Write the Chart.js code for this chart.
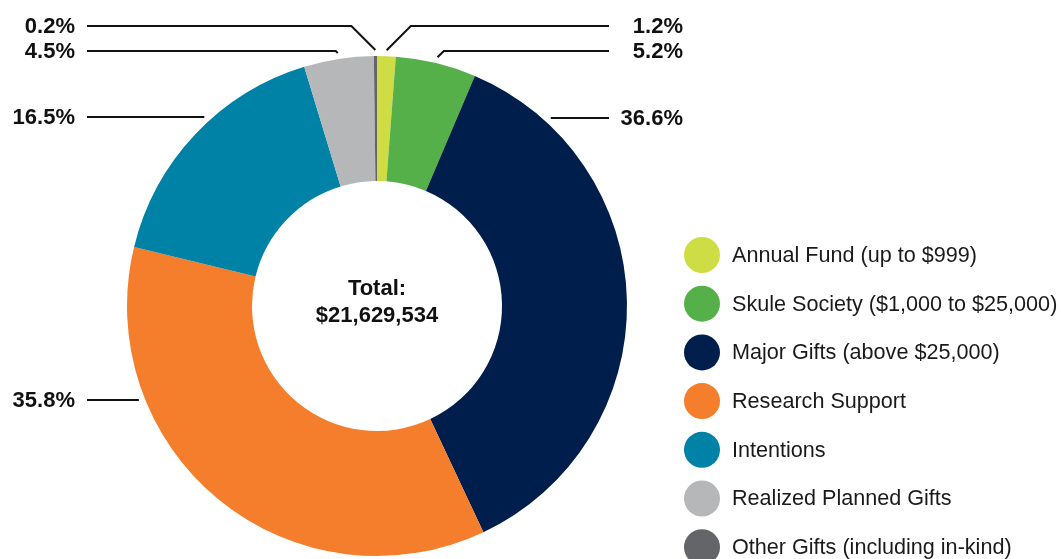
<!DOCTYPE html>
<html>
<head>
<meta charset="utf-8">
<script src="https://cdn.jsdelivr.net/npm/chart.js@4"></script>
<style>
  html, body { margin: 0; padding: 0; background: #fff; }
  #wrap { width: 1061px; height: 559px; position: relative; }
</style>
</head>
<body>
<div id="wrap"><canvas id="myChart" width="1061" height="559"></canvas></div>
<script>
// data
const categories = [
    'Annual Fund (up to $999)',
    'Skule Society ($1,000 to $25,000)',
    'Major Gifts (above $25,000)',
    'Research Support',
    'Intentions',
    'Realized Planned Gifts',
    'Other Gifts (including in-kind)'
];
const shares = [1.2, 5.2, 36.6, 35.8, 16.5, 4.5, 0.2];
const totalAmount = 21629534;
const colors = ['#cfdd45', '#56b04a', '#001e4c', '#f47e2b', '#0081a6', '#b6b7b9', '#636569'];

// where each percentage label sits (side of the ring and text row)
const labelSide = ['right', 'right', 'right', 'left', 'left', 'left', 'left'];
const labelRow = [26, 51, 118, 400, 117, 51, 26];

const FONT = "'Liberation Sans', Arial, Helvetica, sans-serif";

const leaderLines = {
    id: 'leaderLines',
    afterDatasetsDraw(chart) {
        const ctx = chart.ctx;
        const arcs = chart.getDatasetMeta(0).data;
        ctx.save();
        for (let i = 0; i < arcs.length; i++) {
            const a = arcs[i];
            const r = a.outerRadius + 6;
            const mid = (a.startAngle + a.endAngle) / 2;
            const ly = labelRow[i];
            const right = labelSide[i] === 'right';
            let pts = [];
            if (shares[i] < 10) {
                const ax = a.x + Math.cos(mid) * r;
                const ay = a.y + Math.sin(mid) * r;
                const ex = ax + (right ? 1 : -1) * (ay - ly);
                pts = [[ax, ay], [ex, ly]];
            } else {
                const dy = ly - a.y;
                const dx = Math.sqrt(Math.max(r * r - dy * dy, 0));
                pts = [[a.x + (right ? dx : -dx), ly]];
            }
            pts.push([right ? 609 : 87, ly]);
            ctx.beginPath();
            ctx.moveTo(pts[0][0], pts[0][1]);
            for (let p of pts.slice(1)) ctx.lineTo(p[0], p[1]);
            ctx.lineWidth = 2;
            ctx.strokeStyle = '#111';
            ctx.stroke();

            ctx.fillStyle = '#111';
            ctx.font = 'bold 22px ' + FONT;
            ctx.textAlign = 'right';
            ctx.textBaseline = 'middle';
            ctx.fillText(shares[i].toFixed(1) + '%', right ? 683 : 75, ly + 1);
        }
        ctx.restore();
    }
};

const centerText = {
    id: 'centerText',
    afterDatasetsDraw(chart) {
        const ctx = chart.ctx;
        const a = chart.getDatasetMeta(0).data[0];
        ctx.save();
        ctx.fillStyle = '#111';
        ctx.font = 'bold 22px ' + FONT;
        ctx.textAlign = 'center';
        ctx.textBaseline = 'middle';
        ctx.fillText('Total:', a.x, a.y - 17);
        ctx.fillText('$' + totalAmount.toLocaleString('en-US'), a.x, a.y + 10);
        ctx.restore();
    }
};

const sideLegend = {
    id: 'sideLegend',
    afterDraw(chart) {
        const ctx = chart.ctx;
        ctx.save();
        for (let i = 0; i < categories.length; i++) {
            const y = 255 + i * 48.7;
            ctx.beginPath();
            ctx.arc(702, y, 18, 0, Math.PI * 2);
            ctx.fillStyle = colors[i];
            ctx.fill();
            ctx.fillStyle = '#1a1a1a';
            ctx.font = '21.6px ' + FONT;
            ctx.textAlign = 'left';
            ctx.textBaseline = 'middle';
            ctx.fillText(categories[i], 732, y + 1);
        }
        ctx.restore();
    }
};

new Chart(document.getElementById('myChart'), {
    type: 'doughnut',
    data: {
        labels: categories,
        datasets: [{
            data: shares,
            backgroundColor: colors,
            borderWidth: 0,
            hoverOffset: 0
        }]
    },
    options: {
        responsive: false,
        animation: false,
        events: [],
        cutout: '50%',
        layout: { padding: { left: 127, right: 434, top: 56, bottom: 3 } },
        plugins: {
            legend: { display: false },
            tooltip: { enabled: false }
        }
    },
    plugins: [leaderLines, centerText, sideLegend]
});
</script>
</body>
</html>
